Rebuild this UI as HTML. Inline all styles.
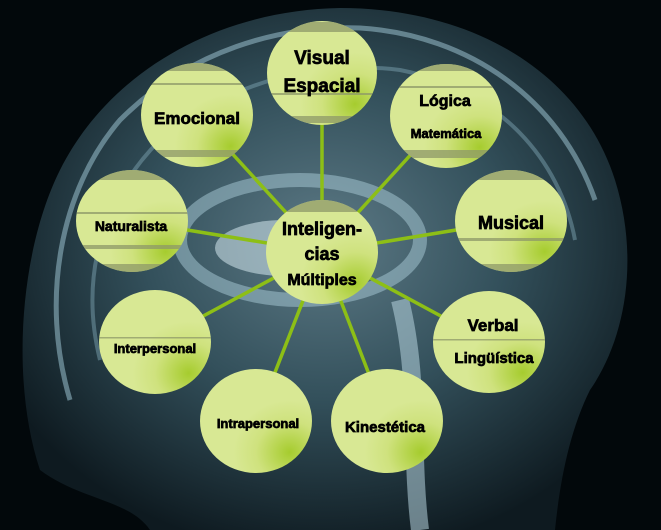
<!DOCTYPE html>
<html><head><meta charset="utf-8"><style>
html,body{margin:0;padding:0;background:#000;}
svg{display:block;}
text{font-family:"Liberation Sans",Arial,sans-serif;font-weight:bold;fill:#000;stroke:#000;stroke-width:0.7;text-anchor:middle;}
</style></head><body>
<svg width="661" height="530" viewBox="0 0 661 530" xmlns="http://www.w3.org/2000/svg">
<defs>
<radialGradient id="bg" cx="0.5" cy="0.45" r="0.6">
<stop offset="0" stop-color="#5d7a86"/><stop offset="0.5" stop-color="#33505b"/><stop offset="1" stop-color="#0e1a20"/>
</radialGradient>
<radialGradient id="cf" cx="0.8" cy="0.8" r="0.5">
<stop offset="0" stop-color="#a6cc2e"/><stop offset="0.6" stop-color="#cfe27e"/><stop offset="1" stop-color="#d8e894"/>
</radialGradient>
<clipPath id="cc">
<ellipse cx="322" cy="73" rx="55" ry="52"/>
<ellipse cx="197" cy="115" rx="56" ry="52"/>
<ellipse cx="446" cy="116" rx="56" ry="52"/>
<ellipse cx="132" cy="221" rx="56" ry="51"/>
<ellipse cx="511" cy="221" rx="56" ry="51"/>
<ellipse cx="322" cy="252" rx="56" ry="52"/>
<ellipse cx="155" cy="342" rx="56" ry="52"/>
<ellipse cx="489" cy="342" rx="56" ry="51"/>
</clipPath>
</defs>
<rect width="661" height="530" fill="#02080b"/>
<path d="M40,470 C10,380 20,250 60,170 C110,70 220,10 340,8 C470,8 580,70 615,180 C640,260 625,340 590,390 C570,430 560,480 555,530 L150,530 C130,500 80,500 40,470 Z" fill="url(#bg)"/>
<path d="M70,400 C40,300 60,190 120,120 C190,50 280,25 360,28 C470,35 560,100 595,200" fill="none" stroke="#8fb4c2" stroke-width="5" opacity="0.6"/>
<path d="M100,360 C80,280 100,200 160,140 C230,80 320,60 400,70 C500,90 560,160 575,240" fill="none" stroke="#7aa0ae" stroke-width="4" opacity="0.5"/>
<ellipse cx="300" cy="240" rx="120" ry="60" fill="none" stroke="#a9ccd8" stroke-width="14" opacity="0.5"/>
<ellipse cx="285" cy="248" rx="70" ry="28" fill="#d4e8ee" opacity="0.55"/>
<path d="M400,300 C420,380 410,450 420,530" stroke="#b7d4de" stroke-width="18" fill="none" opacity="0.55"/>
<g stroke="#8dbf16" stroke-width="3.5">
<line x1="322" y1="252" x2="322" y2="73"/>
<line x1="322" y1="252" x2="197" y2="115"/>
<line x1="322" y1="252" x2="446" y2="116"/>
<line x1="322" y1="252" x2="132" y2="221"/>
<line x1="322" y1="252" x2="511" y2="221"/>
<line x1="322" y1="252" x2="155" y2="342"/>
<line x1="322" y1="252" x2="489" y2="342"/>
<line x1="322" y1="252" x2="256" y2="421"/>
<line x1="322" y1="252" x2="387" y2="421"/>
</g>
<g fill="url(#cf)">
<ellipse cx="322" cy="73" rx="55" ry="52"/>
<ellipse cx="197" cy="115" rx="56" ry="52"/>
<ellipse cx="446" cy="116" rx="56" ry="52"/>
<ellipse cx="132" cy="221" rx="56" ry="51"/>
<ellipse cx="511" cy="221" rx="56" ry="51"/>
<ellipse cx="322" cy="252" rx="56" ry="52"/>
<ellipse cx="155" cy="342" rx="56" ry="52"/>
<ellipse cx="489" cy="342" rx="56" ry="51"/>
<ellipse cx="256" cy="421" rx="56" ry="52"/>
<ellipse cx="387" cy="421" rx="56" ry="52"/>
</g>
<g fill="#8e9868" opacity="0.75" clip-path="url(#cc)">
<rect x="260" y="22" width="124" height="10"/><rect x="260" y="93" width="124" height="2"/><rect x="260" y="116" width="124" height="7"/>
<rect x="140" y="63" width="115" height="8"/><rect x="140" y="83" width="115" height="2"/><rect x="140" y="150" width="115" height="7"/>
<rect x="390" y="64" width="115" height="7"/><rect x="390" y="86" width="115" height="2"/><rect x="390" y="150" width="115" height="8"/>
<rect x="75" y="170" width="115" height="10"/><rect x="75" y="212" width="115" height="2"/><rect x="75" y="245" width="115" height="4"/><rect x="75" y="264" width="115" height="8"/>
<rect x="455" y="170" width="115" height="10"/><rect x="455" y="238" width="115" height="3"/><rect x="455" y="264" width="115" height="8"/>
<rect x="265" y="200" width="115" height="12"/>
<rect x="99" y="337" width="115" height="1.5"/>
<rect x="433" y="339" width="115" height="1.5"/>
</g>
<text x="322" y="64" font-size="19">Visual</text>
<text x="322" y="92" font-size="19">Espacial</text>
<text x="197" y="124" font-size="17">Emocional</text>
<text x="445" y="106" font-size="16">Lógica</text>
<text x="446" y="138" font-size="13">Matemática</text>
<text x="131" y="231" font-size="14">Naturalista</text>
<text x="511" y="229" font-size="18">Musical</text>
<text x="322" y="235" font-size="18">Inteligen-</text>
<text x="322" y="260" font-size="18">cias</text>
<text x="322" y="285" font-size="16">Múltiples</text>
<text x="155" y="353" font-size="13">Interpersonal</text>
<text x="493" y="331" font-size="17">Verbal</text>
<text x="494" y="363" font-size="15">Lingüística</text>
<text x="258" y="428" font-size="13">Intrapersonal</text>
<text x="385" y="432" font-size="15">Kinestética</text>
</svg>
</body></html>
